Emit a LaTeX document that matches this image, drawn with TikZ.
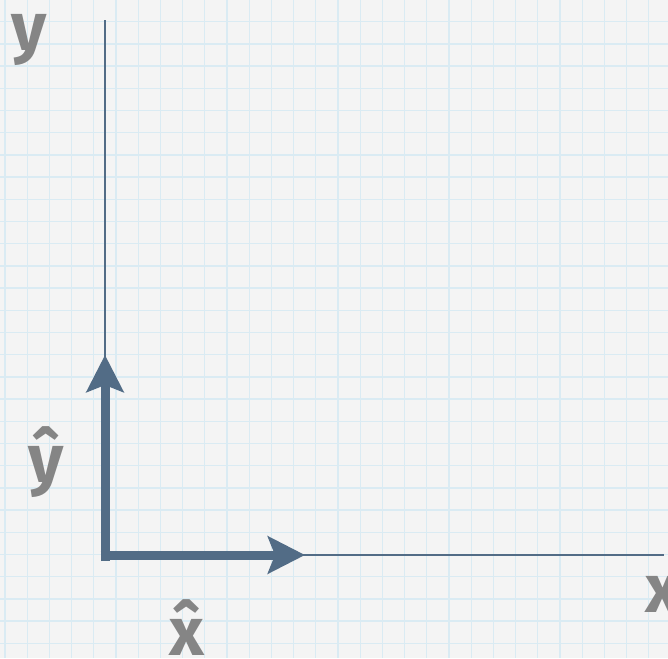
\documentclass[tikz,border=0pt]{standalone}
\usepackage{fontspec}
\setmainfont{Fira Sans}
\usetikzlibrary{arrows.meta}
\definecolor{bgc}{RGB}{244,244,244}
\definecolor{gridc}{RGB}{218,235,243}
\definecolor{axisc}{RGB}{82,108,134}
\definecolor{labc}{RGB}{133,133,133}
\tikzset{
  gridline/.style={draw=gridc, line width=1.3pt},
  axisline/.style={draw=axisc, line width=1.6pt},
  unitvec/.style={draw=axisc, line width=9pt,
    -{Stealth[length=37pt,width=37pt,inset=7pt]}},
  lab/.style={text=labc, inner sep=0pt, font=\bfseries\fontsize{68}{68}\selectfont}
}
\begin{document}
\begin{tikzpicture}[x=1pt,y=-1pt]
\useasboundingbox (0,0) rectangle (668,658);
\fill[bgc] (0,0) rectangle (668,658);
\foreach \i in {0,...,30} \draw[gridline] ({5+22.2*\i},0) -- ({5+22.2*\i},658);
\foreach \i in {-1,...,29} \draw[gridline] (0,{21.7+22.2*\i}) -- (668,{21.7+22.2*\i});
% axes
\coordinate (O) at (105,555);
\coordinate (ytop) at (105,20);
\coordinate (xend) at (664,555);
\coordinate (Ob) at (105,561);
\coordinate (Ol) at (100.5,555);
\coordinate (ytip) at (105,355);
\coordinate (xtip) at (305,555);
\draw[axisline] (O) -- (ytop);
\draw[axisline] (O) -- (xend);
\draw[unitvec] (Ob) -- (ytip);
\draw[unitvec] (Ol) -- (xtip);
% labels
\node[lab, anchor=base] (ylab) at (29.5,51) {y};
\node[lab, anchor=base] (yhlab) at (46,482) {ŷ};
\node[lab, anchor=base] (xhlab) at (187,655) {x̂};
\node[lab, anchor=base west] (xlab) at (645,612) {x};
\end{tikzpicture}
\end{document}
